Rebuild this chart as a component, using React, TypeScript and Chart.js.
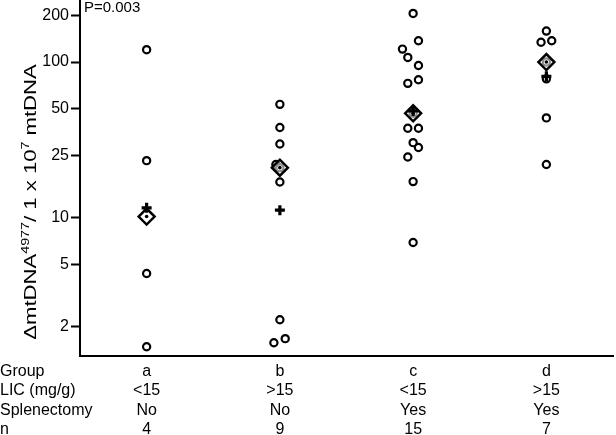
import React, { useEffect, useRef } from 'react';
import { Chart, registerables } from 'chart.js';

Chart.register(...registerables);

const FONT = '"Liberation Sans", Arial, Helvetica, sans-serif';

// ---- data ----
const groups = ['a', 'b', 'c', 'd'];
const licLabels = ['<15', '>15', '<15', '>15'];
const splenectomy = ['No', 'No', 'Yes', 'Yes'];
const nCounts = ['4', '9', '15', '7'];
const rowHeaders = ['Group', 'LIC (mg/g)', 'Splenectomy', 'n'];

const valuesA = [120, 23.3, 4.4, 1.49];
const valuesB = [53.5, 38, 29.8, 22, 21, 17, 2.22, 1.68, 1.58];
const valuesC = [205, 137, 121, 107, 95, 77, 73, 46.9, 37.6, 37.6, 30.4, 28.3, 24.6, 17.1, 6.95];
const valuesD = [158, 137, 134, 100, 78, 43.8, 22];

// horizontal jitter (in category units) for overlapping points
const jitterA = [0, 0, 0, 0];
const jitterB = [0, 0, 0, -0.03, 0, 0, 0, 0.04, -0.045];
const jitterC = [0, 0.04, -0.08, -0.04, 0.04, 0.04, -0.04, 0, -0.04, 0.04, 0, 0.04, -0.04, 0, 0];
const jitterD = [0, 0.04, -0.04, 0, 0, 0, 0];

const meanValues = [10.2, 21, 46.9, 100];
const plusValues = [11.6, 11.2, 48.5, 81];

const yTicks = [2, 5, 10, 25, 50, 100, 200];
const pValueText = 'P=0.003';
const yTitleParts = [
  { t: '\u0394mtDNA', sup: false },
  { t: '4977', sup: true },
  { t: '/ 1 x 10', sup: false },
  { t: '7', sup: true },
  { t: ' mtDNA', sup: false },
];

const groupValues = [valuesA, valuesB, valuesC, valuesD];
const groupJitter = [jitterA, jitterB, jitterC, jitterD];

const tablePlugin = {
  id: 'tableAndTitles',
  afterDraw(chart: any) {
    const ctx = chart.ctx;
    const area = chart.chartArea;
    const xs = chart.scales.x;
    ctx.save();
    ctx.fillStyle = '#000';
    ctx.textBaseline = 'middle';
    ctx.font = `16px ${FONT}`;
    const cols = [groups, licLabels, splenectomy, nCounts];
    rowHeaders.forEach((h, r) => {
      const y = area.bottom + 15.5 + r * 19.5;
      ctx.textAlign = 'left';
      ctx.fillText(h, 0, y);
      ctx.textAlign = 'center';
      cols[r].forEach((t, i) => ctx.fillText(t, xs.getPixelForValue(i + 1), y));
    });

    ctx.font = `15px ${FONT}`;
    ctx.textAlign = 'left';
    ctx.fillText(pValueText, area.left + 4, area.top + 8);

    // rotated y-axis title with superscripts
    const base = 17;
    const supSize = 11;
    const widths = yTitleParts.map((p) => {
      ctx.font = `${p.sup ? supSize : base}px ${FONT}`;
      return ctx.measureText(p.t).width;
    });
    const total = widths.reduce((a, b) => a + b, 0);
    const stretch = 1.3;
    ctx.translate(30, 202);
    ctx.rotate(-Math.PI / 2);
    ctx.scale(stretch, 1);
    ctx.textBaseline = 'alphabetic';
    let x = -total / 2;
    yTitleParts.forEach((p, i) => {
      ctx.font = `${p.sup ? supSize : base}px ${FONT}`;
      ctx.fillText(p.t, x, p.sup ? 6 - base * 0.42 : 6);
      x += widths[i];
    });
    ctx.restore();
  },
};

export default function App() {
  const ref = useRef<HTMLCanvasElement | null>(null);
  useEffect(() => {
    const canvas = ref.current;
    if (!canvas) return;
    const circlePts = groups.flatMap((g, i) =>
      groupValues[i].map((v, j) => ({ x: i + 1 + groupJitter[i][j], y: v }))
    );
    const meanPts = meanValues.map((v, i) => ({ x: i + 1, y: v }));
    const plusPts = plusValues.map((v, i) => ({ x: i + 1, y: v }));

    const chart = new Chart(canvas, {
      type: 'scatter',
      data: {
        datasets: [
          {
            data: meanPts,
            pointStyle: 'circle',
            pointRadius: 1.8,
            pointBorderWidth: 0,
            backgroundColor: '#000',
            borderColor: '#000',
            order: 1,
            clip: false,
          },
          {
            data: plusPts,
            pointStyle: 'cross',
            pointRadius: 5,
            pointBorderWidth: 3.2,
            borderColor: '#000',
            backgroundColor: '#000',
            order: 2,
            clip: false,
          },
          {
            data: meanPts,
            pointStyle: 'rectRot',
            pointRadius: 8,
            pointBorderWidth: 2.5,
            borderColor: '#000',
            backgroundColor: 'rgba(255,255,255,0.55)',
            order: 3,
            clip: false,
          },
          {
            data: circlePts,
            pointStyle: 'circle',
            pointRadius: 3.6,
            pointBorderWidth: 2.2,
            borderColor: '#000',
            backgroundColor: '#fff',
            order: 4,
            clip: false,
          },
        ],
      },
      options: {
        animation: false,
        responsive: false,
        devicePixelRatio: 1,
        layout: { autoPadding: false, padding: { top: 0, left: 0, right: 3, bottom: 0 } },
        plugins: { legend: { display: false }, tooltip: { enabled: false } },
        scales: {
          x: {
            type: 'linear',
            min: 0.5,
            max: 4.5,
            grid: { display: false },
            ticks: { display: false },
            border: { display: true, color: '#000', width: 2 },
            afterFit(scale: any) {
              scale.height = 79;
              scale.paddingLeft = 0;
              scale.paddingRight = 0;
            },
          },
          y: {
            type: 'logarithmic',
            min: 1.3,
            max: 250,
            afterBuildTicks(scale: any) {
              scale.ticks = yTicks.map((v) => ({ value: v }));
            },
            ticks: {
              color: '#000',
              font: { family: FONT, size: 16 },
              padding: 2,
              autoSkip: false,
              callback: (v: any) => String(v),
            },
            grid: {
              display: true,
              drawOnChartArea: false,
              drawTicks: true,
              tickLength: 9,
              tickColor: '#000',
              tickWidth: 2,
            },
            border: { display: true, color: '#000', width: 2 },
            afterFit(scale: any) {
              scale.width = 80;
              scale.paddingTop = 0;
              scale.paddingBottom = 0;
            },
          },
        },
      },
      plugins: [tablePlugin],
    });
    return () => chart.destroy();
  }, []);

  return (
    <div style={{ position: 'absolute', left: 0, top: 0, width: 616, height: 435 }}>
      <canvas ref={ref} width={616} height={435} style={{ display: 'block' }} />
    </div>
  );
}
